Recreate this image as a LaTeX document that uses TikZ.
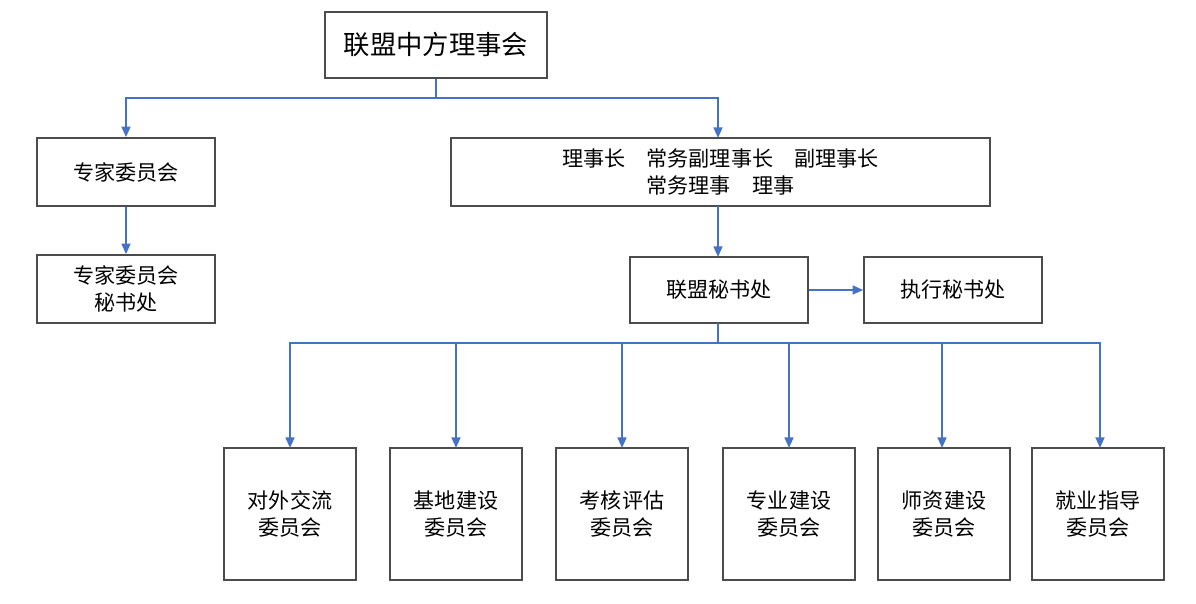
\documentclass[tikz,border=0pt]{standalone}
\usepackage{fontspec}
\setmainfont{Noto Sans CJK SC}
\usetikzlibrary{arrows.meta}
\begin{document}
\begin{tikzpicture}[x=0.02cm,y=-0.02cm,
 box/.style={draw=black!70,line width=0.9pt,fill=white,inner sep=0pt,font=\fontsize{12}{15}\selectfont,align=center},
 conn/.style={draw={rgb,255:red,68;green,114;blue,196},line width=1.1pt},
 arr/.style={conn,-{Triangle[length=6pt,width=5pt]}}]
\useasboundingbox[fill=white] (0,0) rectangle (1196,604);
\newcommand{\bx}[6]{\node[box,minimum width=#4*0.02cm-#2*0.02cm,minimum height=#5*0.02cm-#3*0.02cm] (#1) at ({(#2+#4)/2},{(#3+#5)/2}) {#6};}
\bx{top}{325}{12}{547}{78}{\fontsize{15}{18}\selectfont 联盟中方理事会}
\bx{zj}{37}{138}{215}{206}{专家委员会}
\bx{zjs}{37}{255}{215}{323}{专家委员会\\秘书处}
\bx{lsz}{451}{138}{990}{206}{理事长\quad 常务副理事长\quad 副理事长\\常务理事\quad 理事}
\bx{lm}{630}{257}{808}{323}{联盟秘书处}
\bx{zx}{864}{257}{1042}{323}{执行秘书处}
\bx{b1}{224}{448}{356}{580}{对外交流\\委员会}
\bx{b2}{390}{448}{522}{580}{基地建设\\委员会}
\bx{b3}{556}{448}{688}{580}{考核评估\\委员会}
\bx{b4}{723}{448}{855}{580}{专业建设\\委员会}
\bx{b5}{878}{448}{1010}{580}{师资建设\\委员会}
\bx{b6}{1032}{448}{1164}{580}{就业指导\\委员会}
\coordinate (j1) at (436,98);
\coordinate (j2) at (718,343);
\draw[conn] (top.south -| j1) -- (j1);
\draw[arr] (j1) -| (zj.north);
\draw[arr] (j1) -| (718,138);
\draw[arr] (zj) -- (zjs);
\draw[arr] (718,206) -- (718,257);
\draw[arr] (lm) -- (zx);
\draw[conn] (718,323) -- (j2);
\foreach \b/\x in {b1/290,b2/456,b3/622,b4/789,b5/942,b6/1100}{
 \draw[arr] (j2) -| (\x,448);
}
\end{tikzpicture}
\end{document}
